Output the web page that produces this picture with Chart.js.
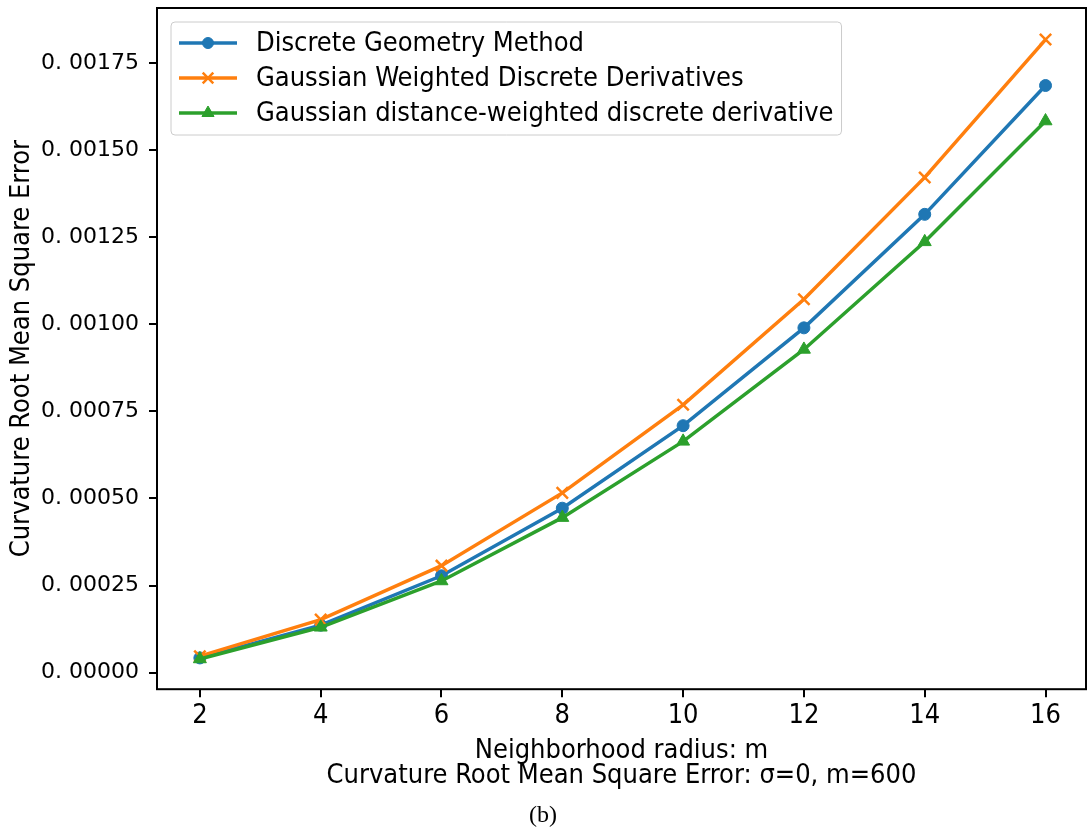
<!DOCTYPE html>
<html><head><meta charset="utf-8">
<script src="https://cdn.jsdelivr.net/npm/chart.js@4.4.0/dist/chart.umd.min.js"></script>
<style>html,body{margin:0;padding:0;background:#fff;} canvas{display:block;}</style>
</head><body>
<canvas id="c" width="1088" height="838"></canvas>
<script>
const radii = [2, 4, 6, 8, 10, 12, 14, 16];
const discreteGeometry = [0.000042, 0.000136, 0.000278, 0.000472, 0.000709, 0.000990, 0.001316, 0.001686];
const gaussianWeighted = [0.000047, 0.000152, 0.000307, 0.000516, 0.000769, 0.001072, 0.001422, 0.001818];
const gaussianDistanceWeighted = [0.000039, 0.000130, 0.000263, 0.000445, 0.000664, 0.000928, 0.001237, 0.001584];
const seriesNames = ['Discrete Geometry Method', 'Gaussian Weighted Discrete Derivatives', 'Gaussian distance-weighted discrete derivative'];
const xTickValues = [2, 4, 6, 8, 10, 12, 14, 16];
const xTickLabels = ['2', '4', '6', '8', '10', '12', '14', '16'];
const yTickValues = [0, 0.00025, 0.0005, 0.00075, 0.001, 0.00125, 0.0015, 0.00175];
const yTickLabels = ['0. 00000', '0. 00025', '0. 00050', '0. 00075', '0. 00100', '0. 00125', '0. 00150', '0. 00175'];
const xTitle = ['Neighborhood radius: m', 'Curvature Root Mean Square Error: \u03c3=0, m=600'];
const yTitle = 'Curvature Root Mean Square Error';
const caption = '(b)';

const NARROW = "'Liberation Sans Narrow', 'DejaVu Sans Condensed', 'Liberation Sans', sans-serif";
const colors = ['#1f77b4', '#ff7f0e', '#2ca02c'];
const styles = [
  {pointStyle: 'circle', radius: 6, borderWidth: 1},
  {pointStyle: 'crossRot', radius: 8, borderWidth: 2.5},
  {pointStyle: 'triangle', radius: 7.5, borderWidth: 1}
];
const seriesValues = [discreteGeometry, gaussianWeighted, gaussianDistanceWeighted];

function zeroPad(scale) {
  scale.paddingTop = 0; scale.paddingBottom = 0; scale.paddingLeft = 0; scale.paddingRight = 0;
}

const framePlugin = {
  id: 'frame',
  afterDraw(chart) {
    const {ctx, chartArea: a} = chart;
    ctx.save();
    ctx.strokeStyle = '#000';
    ctx.lineWidth = 2;
    ctx.strokeRect(a.left, a.top, a.right - a.left, a.bottom - a.top);
    ctx.restore();
  }
};

const legendPlugin = {
  id: 'boxLegend',
  afterDraw(chart) {
    const ctx = chart.ctx;
    const x0 = 171, y0 = 22, rowY = [43, 78, 113];
    ctx.save();
    ctx.font = '27px ' + NARROW;
    let maxW = 0;
    chart.data.datasets.forEach(d => { maxW = Math.max(maxW, ctx.measureText(d.label).width); });
    const w = 256 + maxW + 8 - x0, h = 113;
    ctx.beginPath();
    ctx.roundRect(x0, y0, w, h, 4);
    ctx.fillStyle = 'rgba(255,255,255,0.8)';
    ctx.fill();
    ctx.strokeStyle = '#cccccc';
    ctx.lineWidth = 1;
    ctx.stroke();
    chart.data.datasets.forEach((d, i) => {
      const y = rowY[i];
      ctx.beginPath();
      ctx.moveTo(179, y);
      ctx.lineTo(237, y);
      ctx.strokeStyle = d.borderColor;
      ctx.lineWidth = d.borderWidth;
      ctx.stroke();
      ctx.fillStyle = d.pointBackgroundColor;
      ctx.strokeStyle = d.pointBorderColor;
      ctx.lineWidth = d.pointBorderWidth;
      Chart.helpers.drawPoint(ctx, {pointStyle: d.pointStyle, radius: d.pointRadius - 0.5, rotation: 0, borderWidth: d.pointBorderWidth}, 208, y);
      ctx.fillStyle = '#000';
      ctx.textBaseline = 'middle';
      ctx.textAlign = 'left';
      ctx.fillText(d.label, 256, y + 1);
    });
    ctx.restore();
  }
};

const datasets = seriesNames.map((name, i) => ({
  label: name,
  data: radii.map((r, j) => ({x: r, y: seriesValues[i][j]})),
  borderColor: colors[i],
  backgroundColor: colors[i],
  pointBackgroundColor: colors[i],
  pointBorderColor: colors[i],
  pointStyle: styles[i].pointStyle,
  pointRadius: styles[i].radius,
  pointBorderWidth: styles[i].borderWidth,
  borderWidth: 3.5,
  tension: 0,
  fill: false,
  clip: false,
  order: 3 - i
}));

new Chart(document.getElementById('c'), {
  type: 'line',
  data: {datasets},
  plugins: [framePlugin, legendPlugin],
  options: {
    responsive: false,
    animation: false,
    devicePixelRatio: 1,
    layout: {autoPadding: false, padding: {top: 8, right: 2, left: 0, bottom: 0}},
    plugins: {
      legend: {display: false},
      tooltip: {enabled: false},
      title: {
        display: true,
        position: 'bottom',
        text: caption,
        color: '#000',
        font: {family: "'Liberation Serif', 'DejaVu Serif', serif", size: 24, weight: 'normal', lineHeight: 1.2},
        padding: {top: 0, bottom: 8}
      }
    },
    scales: {
      x: {
        type: 'linear',
        min: 1.29,
        max: 16.67,
        afterBuildTicks(scale) { scale.ticks = xTickValues.map(v => ({value: v})); },
        afterFit(scale) { scale.height = 112; zeroPad(scale); },
        grid: {drawOnChartArea: false, drawTicks: true, tickLength: 8, color: '#000', lineWidth: 2},
        border: {display: false},
        ticks: {
          color: '#000',
          padding: 3,
          maxRotation: 0,
          autoSkip: false,
          font: {family: NARROW, size: 27},
          callback: (v, i) => xTickLabels[i]
        },
        title: {
          display: true,
          text: xTitle,
          color: '#000',
          font: {family: NARROW, size: 27, lineHeight: 0.93},
          padding: {top: 0, bottom: 13}
        }
      },
      y: {
        type: 'linear',
        min: -0.0000478,
        max: 0.0019086,
        afterBuildTicks(scale) { scale.ticks = yTickValues.map(v => ({value: v})); },
        afterFit(scale) { scale.width = 157; zeroPad(scale); },
        grid: {drawOnChartArea: false, drawTicks: true, tickLength: 8, color: '#000', lineWidth: 2},
        border: {display: false},
        ticks: {
          color: '#000',
          padding: 10,
          autoSkip: false,
          font: {family: "'DejaVu Sans', sans-serif", size: 22},
          callback: (v, i) => yTickLabels[i]
        },
        title: {
          display: true,
          text: yTitle,
          color: '#000',
          font: {family: NARROW, size: 27},
          padding: {top: 6, bottom: 0}
        }
      }
    }
  }
});
</script>
</body></html>
